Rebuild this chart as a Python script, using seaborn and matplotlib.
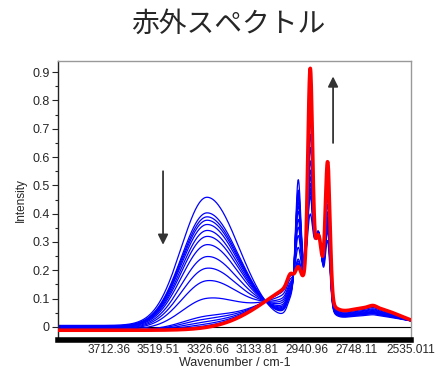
import numpy as np
import pandas as pd
import matplotlib
matplotlib.use("Agg")
import matplotlib.pyplot as plt
import seaborn as sns

# band positions (cm-1), with left/right widths
band_centers = [3330, 2930, 3005, 2975, 2928, 2895, 2860, 2700, 2683]
start_width_left = [100, 45, 12, 10, 10, 12, 9, 130, 15]
start_width_right = [125, 45, 12, 10, 10, 12, 9, 130, 15]
end_width_left = [100, 170, 12, 10, 9, 12, 9, 130, 15]
end_width_right = [125, 55, 12, 10, 9, 12, 9, 130, 15]
# band heights of the first (blue) and the last (red) spectrum
start_heights = [0.453, 0.20, 0.03, 0.38, 0.18, 0.17, 0.22, 0.035, 0.003]
end_heights = [0.0, 0.17, 0.04, 0.05, 0.735, 0.17, 0.48, 0.08, 0.008]
start_offset = 0.005
end_offset = -0.012
# OH band height of each blue spectrum
oh_heights = [0.458, 0.403, 0.389, 0.377, 0.362, 0.341, 0.320, 0.291, 0.249,
              0.208, 0.164, 0.102, 0.040, 0.030, 0.020, 0.012, 0.006]

tick_pos = [3712.36, 3519.51, 3326.66, 3133.81, 2940.96, 2748.11, 2535.011]
tick_labels = ["3712.36", "3519.51", "3326.66", "3133.81", "2940.96", "2748.11", "2535.011"]

wn = np.linspace(3910, 2535.011, 1500)


def spectrum(heights, wl, wr, offset):
    y = np.full_like(wn, offset)
    for c, h, a, b in zip(band_centers, heights, wl, wr):
        s = np.where(wn > c, a, b)
        y += h * np.exp(-(wn - c) ** 2 / (2 * s ** 2))
    return y


first = spectrum(start_heights, start_width_left, start_width_right, start_offset)
last = spectrum(end_heights, end_width_left, end_width_right, end_offset)

rows = []
for i, oh in enumerate(oh_heights):
    f = 1 - oh / oh_heights[0]
    rows.append(pd.DataFrame({"wn": wn, "I": (1 - f) * first + f * last, "run": i}))
blue = pd.concat(rows)
red = pd.DataFrame({"wn": wn, "I": last})

sns.set_style("white")
plt.rcParams["font.family"] = ["Liberation Sans", "DejaVu Sans"]

fig = plt.figure(figsize=(4.36, 3.69), dpi=100)
ax = fig.add_axes([0.133, 0.079, 0.81, 0.756])

ax.axhline(0, color="black", lw=0.8, zorder=1)
sns.lineplot(data=blue, x="wn", y="I", units="run", estimator=None,
             color="#0000ff", lw=0.9, ax=ax, zorder=2)
sns.lineplot(data=red, x="wn", y="I", color="#ff0000", lw=2.6, ax=ax, zorder=3)

ax.annotate("", xy=(3501, 0.29), xytext=(3501, 0.55),
            arrowprops=dict(arrowstyle="-|>", color="#333333", lw=1.3,
                            mutation_scale=15, shrinkA=0, shrinkB=0,
                            facecolor="black"))
ax.annotate("", xy=(2839, 0.885), xytext=(2839, 0.65),
            arrowprops=dict(arrowstyle="-|>", color="#333333", lw=1.3,
                            mutation_scale=15, shrinkA=0, shrinkB=0,
                            facecolor="black"))

ax.set_xlim(3910, 2535.011)
ax.set_ylim(-0.046, 0.94)
ax.set_xticks(tick_pos)
ax.set_xticklabels(tick_labels, fontsize=8.6)
ax.set_yticks(np.arange(0, 0.95, 0.1))
ax.set_yticklabels(["0"] + ["%.1f" % v for v in np.arange(0.1, 0.95, 0.1)], fontsize=9)
ax.set_yticks(np.arange(0.05, 0.95, 0.1), minor=True)
ax.tick_params(axis="x", length=0, pad=3)
ax.tick_params(axis="y", which="major", direction="out", length=4, width=0.8, left=True, pad=2)
ax.tick_params(axis="y", which="minor", direction="out", length=2, width=0.8, left=True)

ax.set_xlabel("Wavenumber / cm-1", fontsize=9, labelpad=1)
ax.set_ylabel("Intensity", fontsize=8.5, labelpad=4)

for side in ["top", "right"]:
    ax.spines[side].set_color("#999999")
    ax.spines[side].set_linewidth(1)
ax.spines["left"].set_color("#222222")
ax.spines["left"].set_linewidth(1)
ax.spines["bottom"].set_color("black")
ax.spines["bottom"].set_linewidth(4)

fig.text(0.523, 0.935, "赤外スペクトル", ha="center", va="center", fontsize=20,
         family=["Noto Sans CJK JP", "DejaVu Sans"])

fig.savefig("out.png", dpi=100)
